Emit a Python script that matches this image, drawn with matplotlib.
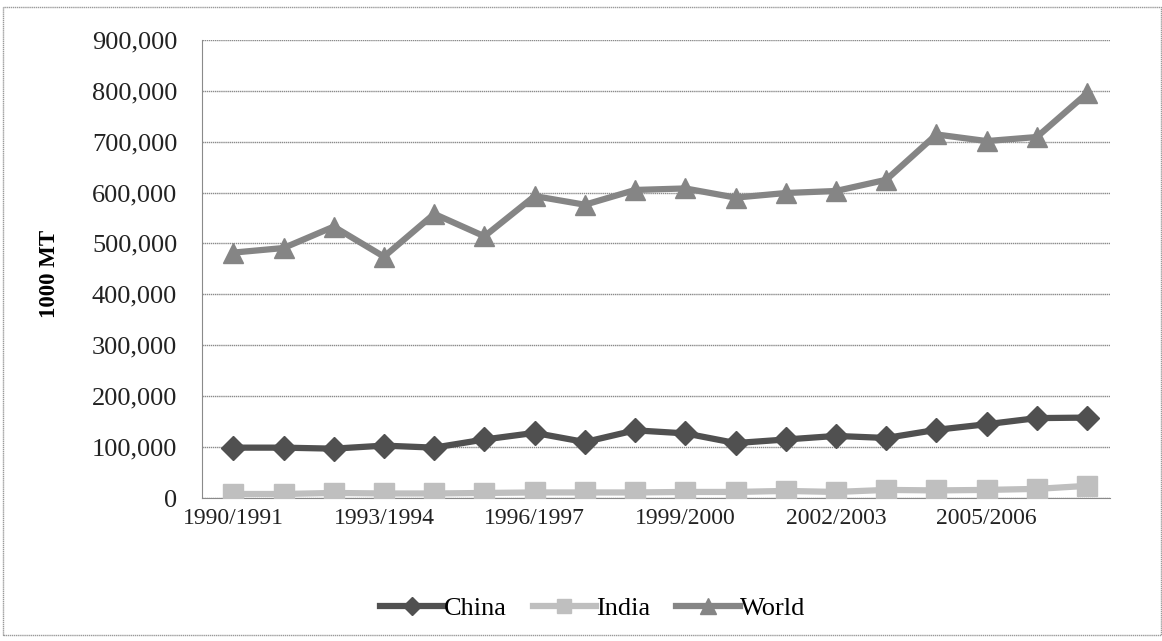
import matplotlib.pyplot as plt
from matplotlib.ticker import FuncFormatter
from matplotlib.patches import Rectangle

plt.rcParams['font.family'] = ['Liberation Serif', 'DejaVu Serif']

years = ["1990/1991", "1991/1992", "1992/1993", "1993/1994", "1994/1995", "1995/1996",
         "1996/1997", "1997/1998", "1998/1999", "1999/2000", "2000/2001", "2001/2002",
         "2002/2003", "2003/2004", "2004/2005", "2005/2006", "2006/2007", "2007/2008"]

# 1000 MT
china = [99000, 99000, 97000, 103000, 99000, 115000, 128000, 110000, 133000,
         127000, 108000, 115000, 122000, 118000, 134000, 145000, 157000, 158000]
india = [8000, 8000, 10000, 9000, 9000, 10000, 11000, 11000, 11000,
         12000, 12000, 14000, 12000, 16000, 15000, 16000, 18000, 24000]
world = [482000, 491000, 533000, 474000, 558000, 514000, 593000, 576000, 605000,
         608000, 590000, 599000, 603000, 625000, 714000, 701000, 709000, 795000]

fig = plt.figure(figsize=(11.62, 6.41), dpi=100)
ax = fig.add_axes([0.174, 0.223, 0.781, 0.715])

x = list(range(len(years)))
ax.plot(x, china, color='#505050', lw=4.5, marker='D', ms=12, label='China', zorder=3)
ax.plot(x, india, color='#bfbfbf', lw=4.5, marker='s', ms=14, label='India', zorder=3)
ax.plot(x, world, color='#858585', lw=4.5, marker='^', ms=15, label='World', zorder=3)

ax.set_ylim(0, 900000)
ax.set_yticks(range(0, 900001, 100000))
ax.yaxis.set_major_formatter(FuncFormatter(lambda v, p: f"{int(v):,}"))
ax.set_xlim(-0.62, 17.45)
ax.set_xticks(x[::3])
ax.set_xticklabels(years[::3])
ax.tick_params(axis='both', length=0, colors='#222222')
ax.tick_params(axis='y', labelsize=19, pad=18)
ax.tick_params(axis='x', labelsize=17, pad=7)

ax.grid(axis='y', color='#8a8a8a', lw=1, ls=(0, (1, 0.5)))
ax.set_axisbelow(True)
for s in ['top', 'right']:
    ax.spines[s].set_visible(False)
ax.spines['left'].set_color('#8a8a8a')
ax.spines['bottom'].set_color('#8a8a8a')

ax.set_ylabel("1000 MT", fontsize=16.5, fontweight='bold')
ax.yaxis.set_label_coords(-0.157, 0.49)

fig.legend(loc='center', bbox_to_anchor=(0.51, 0.051), ncol=3, frameon=False,
           fontsize=19, handlelength=2.4, columnspacing=1.0, handletextpad=0.0,
           markerscale=0.75)

# outer chart border
fig.patches.append(Rectangle((0.003, 0.009), 0.996, 0.98, transform=fig.transFigure,
                             fill=False, edgecolor='#9a9a9a', lw=1, ls=(0, (1, 0.5))))

fig.savefig("out.png", dpi=100)
